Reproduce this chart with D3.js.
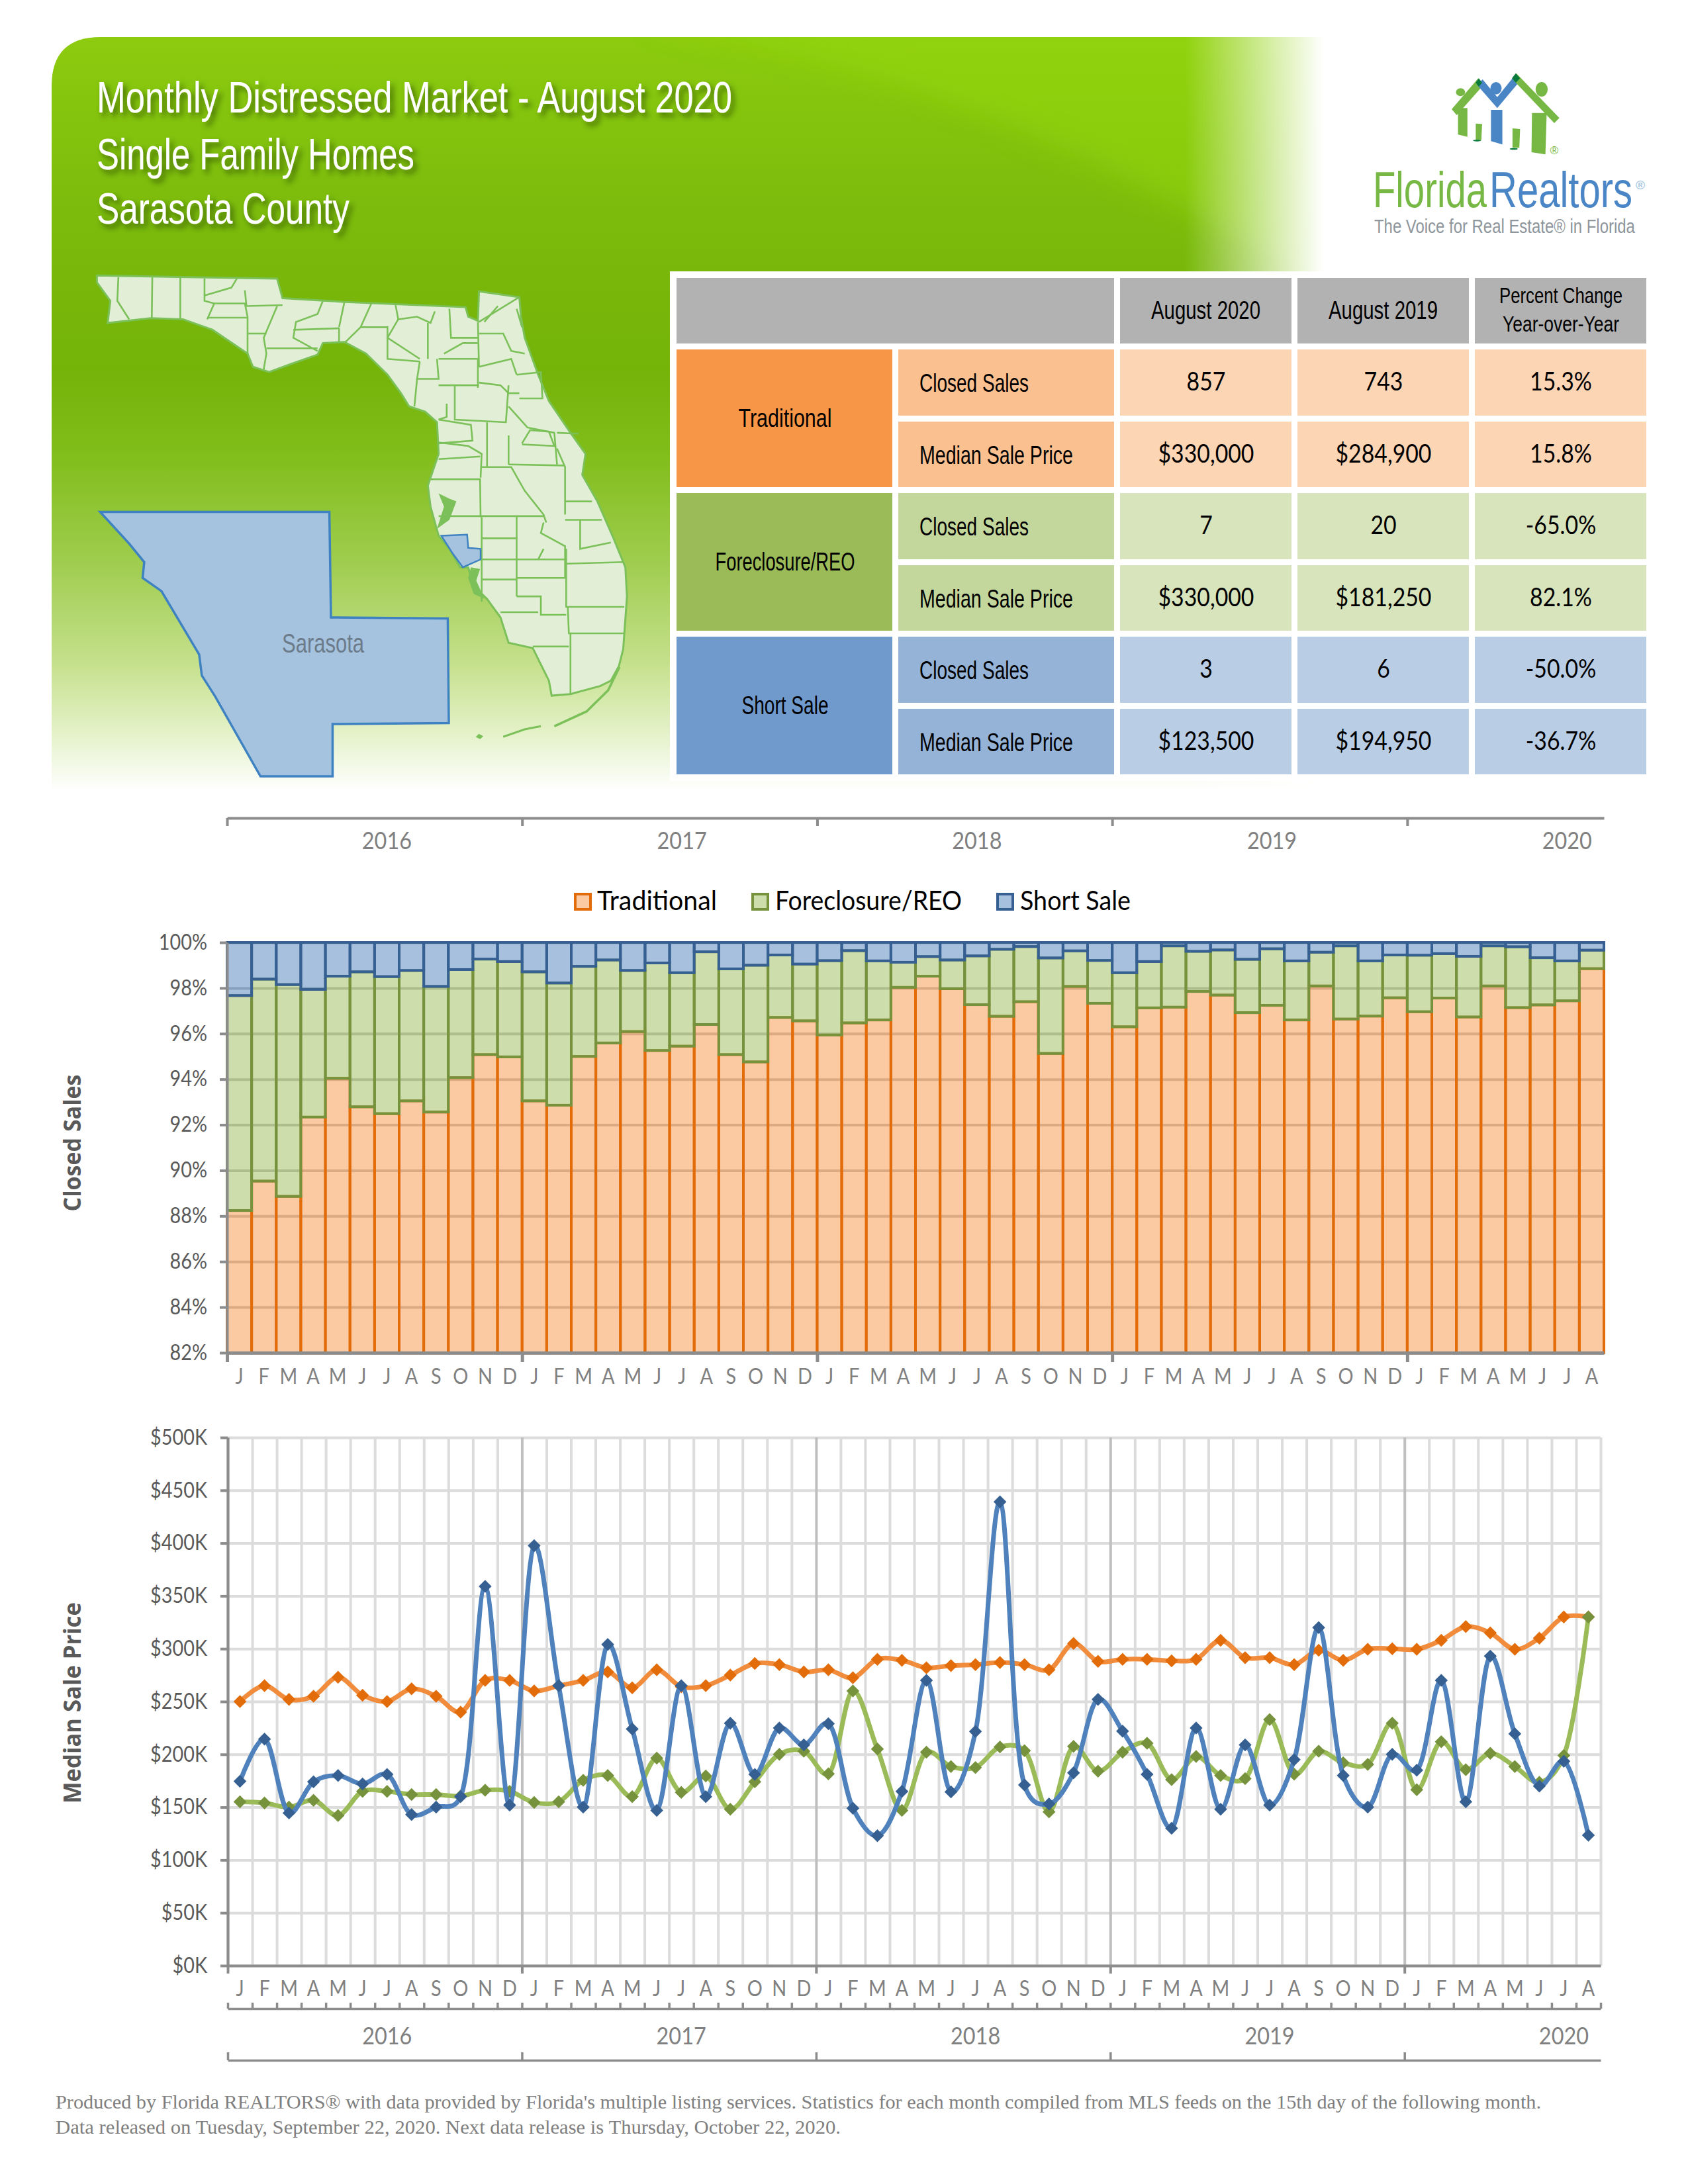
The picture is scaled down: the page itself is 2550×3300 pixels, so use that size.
<!DOCTYPE html>
<html><head><meta charset="utf-8">
<script src="https://d3js.org/d3.v7.min.js"></script>
<style>html,body{margin:0;padding:0;background:#fff}svg{display:block}</style>
</head><body><div id="c"></div>
<script>
// ---------- DATA ----------
const monthLabels = ["J","F","M","A","M","J","J","A","S","O","N","D","J","F","M","A","M","J","J","A","S","O","N","D","J","F","M","A","M","J","J","A","S","O","N","D","J","F","M","A","M","J","J","A","S","O","N","D","J","F","M","A","M","J","J","A"];
const years = ["2016","2017","2018","2019","2020"];
const yearStarts = [0,12,24,36,48];
const seriesNames = ["Traditional","Foreclosure/REO","Short Sale"];

const traditionalShare = [88.24,89.53,88.86,92.34,94.04,92.79,92.49,93.05,92.56,94.07,95.08,94.98,93.05,92.86,95.0,95.59,96.09,95.26,95.45,96.4,95.08,94.76,96.71,96.56,95.94,96.47,96.6,98.03,98.52,97.97,97.27,96.76,97.4,95.13,98.07,97.33,96.3,97.13,97.16,97.85,97.69,96.92,97.24,96.6,98.09,96.64,96.77,97.57,96.96,97.56,96.73,98.09,97.14,97.26,97.44,98.85];
const foreclosureShare = [9.43,8.86,9.29,5.6,4.48,5.92,6.01,5.72,5.51,4.74,4.19,4.18,5.66,5.36,3.95,3.64,2.68,3.84,3.22,3.19,3.76,4.24,2.74,2.49,3.26,3.17,2.59,1.1,0.86,1.26,2.14,2.94,2.42,4.19,1.56,1.88,2.37,2.03,2.69,1.76,1.98,2.34,2.48,2.59,1.48,3.21,2.42,1.88,2.48,1.95,2.66,1.76,2.67,2.07,1.75,0.81];
const shortSaleShare = [2.33,1.61,1.85,2.06,1.48,1.29,1.5,1.23,1.93,1.19,0.73,0.84,1.29,1.78,1.05,0.77,1.23,0.9,1.33,0.41,1.16,1.0,0.55,0.95,0.8,0.36,0.81,0.87,0.62,0.77,0.59,0.3,0.18,0.68,0.37,0.79,1.33,0.84,0.15,0.39,0.33,0.74,0.28,0.81,0.43,0.15,0.81,0.55,0.56,0.49,0.61,0.15,0.19,0.67,0.81,0.34];

const traditionalPrice = [250,265,252,255,273,256,250,262,255,240,270,270,260,265,270,278,263,280,264,265,275,286,285,278,280,272.5,290,289,282,284,285,287,285,280,305,288,290,290,288.5,290,308,291.5,291.5,284.9,298.5,289,299.5,300,299.5,308,321,315,299.5,310,330,330];
const foreclosurePrice = [155,154,150,156.5,142,165,165,162,162,160.5,166,165,154.5,155,175.5,180,160,196.5,164,179.5,148,174,200,203,181.5,260,205,147,202,188.5,187.5,207,203.5,145.5,207.5,184,202,210.5,176,198,180,177,233,181.25,203,192,190.5,229.5,166.5,212,185.5,201,188.5,173.5,199,330];
const shortSalePrice = [174.5,214.5,144.5,174,180,172,181,143,150,160,359,152,397.5,265,150,304,224,147,265,160,229.5,181,225,209,229,149,123,165,270,164.5,221.6,439,171,153,182.5,252,222,181,130,225,148,209,152,194.95,320,180,150,200,185,270,155,293,219.5,170,193.5,123.5];

const tableHeaders = ["August 2020","August 2019"];
const tableHeaderChange = ["Percent Change","Year-over-Year"];
const tableGroups = ["Traditional","Foreclosure/REO","Short Sale"];
const tableMeasures = ["Closed Sales","Median Sale Price"];
const tableCurrent = ["857","$330,000","7","$330,000","3","$123,500"];
const tablePrior = ["743","$284,900","20","$181,250","6","$194,950"];
const tableChange = ["15.3%","15.8%","-65.0%","82.1%","-50.0%","-36.7%"];
const titleLines = ["Monthly Distressed Market - August 2020","Single Family Homes","Sarasota County"];
const footerLines = ["Produced by Florida REALTORS® with data provided by Florida's multiple listing services. Statistics for each month compiled from MLS feeds on the 15th day of the following month.","Data released on Tuesday, September 22, 2020. Next data release is Thursday, October 22, 2020."];

// ---------- SETUP ----------
const W=2550,H=3300;
const svg=d3.select("#c").append("svg").attr("width",W).attr("height",H).attr("viewBox",`0 0 ${W} ${H}`);
const defs=svg.append("defs");
const NARROW="'Liberation Sans Narrow','Liberation Sans',sans-serif", CAL="Lato,sans-serif", SERIF="'Liberation Serif',serif", BOLD="'Open Sans',sans-serif";
function txt(p,x,y,t,o={}){
  const e=p.append("text").attr("x",x).attr("y",y).text(t)
    .attr("font-family",o.family||CAL).attr("font-size",o.size||30).attr("fill",o.fill||"#000")
    .attr("text-anchor",o.anchor||"start");
  if(o.weight)e.attr("font-weight",o.weight);
  if(o.width)e.attr("textLength",o.width).attr("lengthAdjust","spacingAndGlyphs");
  if(o.transform)e.attr("transform",o.transform);
  if(o.filter)e.attr("filter",o.filter);
  return e;
}
// squeeze rendered text to imitate the narrower face of the original
function condense(sel,k){sel.each(function(){const n=this.getComputedTextLength();if(n>0)d3.select(this).attr("textLength",n*k).attr("lengthAdjust","spacingAndGlyphs");});}
// same squeeze as a horizontal scale, so the text's box really has the target width
function fitScaled(p,x,y,t,o){
  const e=p.append("text").text(t).attr("font-family",o.family).attr("font-size",o.size).attr("fill",o.fill);
  const k=o.width/e.node().getComputedTextLength();
  e.attr("transform",`translate(${x},${y}) scale(${k},1)`);
  return e;
}

// ---------- BANNER ----------
const vg=defs.append("linearGradient").attr("id","vg").attr("gradientUnits","userSpaceOnUse").attr("x1",0).attr("x2",0).attr("y1",56).attr("y2",1195);
[[0,"#8ccb0e"],[.215,"#7dbc0c"],[.44,"#74b308"],[.56,"#82be1c"],[.7,"#a0cd50"],[.83,"#c5e08c"],[.92,"#e3f1c6"],[1,"#ffffff"]].forEach(s=>vg.append("stop").attr("offset",s[0]).attr("stop-color",s[1]));
const hg=defs.append("linearGradient").attr("id","hg").attr("gradientUnits","userSpaceOnUse").attr("x1",1790).attr("x2",2000).attr("y1",0).attr("y2",0);
hg.append("stop").attr("offset",0).attr("stop-color","#fff");hg.append("stop").attr("offset",1).attr("stop-color","#000");
const m=defs.append("mask").attr("id","bm").attr("maskUnits","userSpaceOnUse").attr("x",0).attr("y",0).attr("width",W).attr("height",H);
m.append("rect").attr("x",78).attr("y",0).attr("width",2000).attr("height",1300).attr("fill","url(#hg)");
defs.append("filter").attr("id","blur").attr("x","-20%").attr("y","-20%").attr("width","140%").attr("height","140%").append("feGaussianBlur").attr("stdDeviation",22);
const sh=defs.append("filter").attr("id","shadow").attr("x","-5%").attr("y","-30%").attr("width","110%").attr("height","170%");
sh.append("feDropShadow").attr("dx",5).attr("dy",6).attr("stdDeviation",4).attr("flood-color","#2a4a00").attr("flood-opacity",.75);
const bannerPath="M78,1195 L78,130 Q78,56 152,56 L2010,56 L2010,1195 Z";
defs.append("clipPath").attr("id","bc").append("path").attr("d",bannerPath);
const banner=svg.append("g").attr("mask","url(#bm)");
const bInner=banner.append("g").attr("clip-path","url(#bc)");
bInner.append("rect").attr("x",78).attr("y",56).attr("width",1940).attr("height",1140).attr("fill","url(#vg)");
bInner.append("path").attr("d","M960,30 Q1400,110 1720,280 L2000,430 L2100,30 Z").attr("fill","#9ade10").attr("opacity",.42).attr("filter","url(#blur)");

titleLines.forEach((t,i)=>txt(svg,146,[170,256,338][i],t,{family:NARROW,size:66,fill:"#fff",width:[960,480,382][i],filter:"url(#shadow)"}));

// ---------- MAP (decorative trace, zoom-crop coordinates) ----------
const mapLine=d3.line().x(d=>d[0]/1.23).y(d=>d[1]/1.254);
const pairs=a=>d3.range(0,a.length,2).map(i=>[a[i],a[i+1]]);
const flOutline=[180,522,515,528,525,565,640,572,865,582,870,600,888,608,890,552,965,563,968,600,975,640,1000,710,1020,760,1060,820,1088,860,1082,900,1110,950,1140,1020,1162,1075,1165,1130,1158,1230,1150,1262,1135,1290,1115,1300,1060,1315,1025,1318,1020,1290,990,1228,945,1218,930,1170,905,1135,880,1110,870,1075,855,1075,835,1040,815,1015,800,960,795,920,815,860,812,800,790,780,760,770,745,745,720,710,680,670,640,648,600,650,590,672,540,690,500,705,470,695,460,670,395,625,340,605,280,603,200,612,205,570,180,535];
const counties=[[220,525,218,570,240,605],[283,525,282,603],[335,525,335,605],[380,528,380,570,398,575,385,605],[380,560,430,545,440,528],[398,575,455,575,460,600,460,670],[385,602,460,602],[455,550,458,580,525,578],[460,632,495,632],[515,580,490,640,495,670,490,700],[495,660,590,660],[545,625,630,622],[630,622,630,648],[600,570,590,595,550,610,545,640,590,665],[640,572,630,620],[690,575,670,620,640,650],[670,620,720,620,720,680,780,685],[735,578,740,605,775,600,800,612,808,590],[740,605,720,640,780,680],[795,612,795,680],[835,585,838,640,888,640],[888,610,890,695],[890,610,965,563],[890,632,935,632,950,665,975,670],[925,580,900,610],[960,585,970,620],[825,670,860,650,888,650],[815,680,888,680,888,735],[780,685,775,718,815,718,812,680],[815,730,890,730],[890,695,950,680,960,710],[890,725,930,730,945,745,965,745],[960,710,1005,705,1008,755,965,755],[845,730,845,795,940,800,945,730],[775,718,770,770],[830,765,830,790,815,795],[815,795,875,805,878,835,815,840],[905,800,905,885],[945,770,980,810,1030,820,1035,880],[945,825,945,880],[1035,820,1075,822],[970,840,985,815,1020,818,1030,845,970,842],[1035,850,1050,885,1050,975],[945,880,1048,882],[812,838,870,845,895,860,893,905],[815,870,892,865],[800,908,892,908,893,980],[893,885,950,885,975,930,1010,975,1015,990],[1050,950,1100,950],[815,978,1010,978],[1050,985,1118,985],[1078,985,1078,1040,1135,1028],[895,980,895,1140],[895,1020,960,1020,960,1130],[960,978,960,1020],[895,1060,1050,1060],[1010,990,1005,1010,1050,1035,1050,1095,960,1095],[1010,1040,1000,1060],[895,1098,960,1098],[1052,1068,1160,1065],[1052,1040,1052,1150,1160,1150],[960,1130,1005,1130,1005,1165,1052,1165],[930,1160,1000,1160],[1055,1150,1057,1200,1160,1200],[990,1225,1057,1225],[1060,1200,1060,1315]];
const mapG=svg.append("g");
const landStroke="#7cc05a";
mapG.append("path").attr("d",mapLine(pairs(flOutline))+"Z").attr("fill","#e2efd6").attr("stroke",landStroke).attr("stroke-width",3);
mapG.selectAll("path.c").data(counties).join("path").attr("class","c").attr("d",d=>mapLine(pairs(d))).attr("fill","none").attr("stroke",landStroke).attr("stroke-width",2.6);
[[815,935,835,945,848,950,835,985,812,1002,825,960],[875,1075,892,1078,885,1100,900,1135,880,1125,870,1095]].forEach(a=>mapG.append("path").attr("d",mapLine(pairs(a))+"Z").attr("fill",landStroke));
[[890,1392,896,1395,892,1399,886,1396]].forEach(a=>mapG.append("path").attr("d",mapLine(pairs(a))+"Z").attr("fill",landStroke).attr("stroke",landStroke).attr("stroke-width",2));
mapG.append("path").attr("d",mapLine(pairs([935,1396,975,1382,1005,1376]))).attr("fill","none").attr("stroke",landStroke).attr("stroke-width",3);
mapG.append("path").attr("d",mapLine(pairs([1030,1376,1090,1348,1130,1308,1151,1264]))).attr("fill","none").attr("stroke",landStroke).attr("stroke-width",3.5);
mapG.append("path").attr("d",mapLine(pairs([820,1015,868,1013,870,1038,893,1040,893,1060,860,1075,842,1050]))+"Z").attr("fill","#a5c3df").attr("stroke","#3f82c2").attr("stroke-width",2.5);
mapG.append("path").attr("d",mapLine(pairs([186,970,612,970,615,1170,832,1172,834,1370,618,1372,618,1471,484,1471,400,1320,375,1280,370,1240,300,1120,265,1095,268,1065,240,1030]))+"Z").attr("fill","#a5c3df").attr("stroke","#3f82c2").attr("stroke-width",3.5);
txt(mapG,488,986,"Sarasota",{family:NARROW,size:40,fill:"#6c7b8a",anchor:"middle",width:124});

// ---------- LOGO ----------
const logoG=svg.append("g");
const logoLine=d3.line().x(d=>1950+d[0]/2.613).y(d=>50+d[1]/3);
const lgGreen="#76b843",lgBlue="#4a86c5",lgDark="#0a7a3c";
const poly=(a,f)=>logoG.append("path").attr("d",logoLine(pairs(a))+"Z").attr("fill",f);
const ell=(cx,cy,rx,ry,f)=>logoG.append("ellipse").attr("cx",1950+cx/2.613).attr("cy",50+cy/3).attr("rx",rx/2.613).attr("ry",ry/3).attr("fill",f);
ell(670,268,18,18,lgGreen);poly([660,340,697,340,697,470,660,460],lgGreen);poly([635,345,740,205,757,240,655,372],lgGreen);
poly([730,410,755,412,752,485,730,485],lgGreen);ell(735,487,16,4,lgDark);
poly([735,235,757,210,815,290,875,205,895,230,815,340],lgBlue);ell(810,250,22,28,lgBlue);poly([790,348,835,348,835,505,790,490],lgBlue);
poly([880,215,890,182,1060,385,1040,408],lgGreen);ell(990,255,24,33,lgGreen);poly([952,362,1010,362,1005,550,950,540],lgGreen);
poly([875,432,905,435,902,520,875,520],lgGreen);ell(880,525,16,4,lgDark);
poly([742,205,755,225,742,243,730,225],lgDark);poly([888,182,905,205,888,225,873,205],lgDark);
txt(logoG,2348,233,"®",{family:"'Liberation Sans',sans-serif",size:17,fill:lgGreen,anchor:"middle"});
fitScaled(logoG,2074,313,"Florida",{family:NARROW,size:76,fill:lgGreen,width:172});
fitScaled(logoG,2250,313,"Realtors",{family:NARROW,size:76,fill:lgBlue,width:216});
txt(logoG,2471,286,"®",{family:"'Liberation Sans',sans-serif",size:19,fill:"#8fb8dc"});
fitScaled(logoG,2076,352,"The Voice for Real Estate® in Florida",{family:NARROW,size:30,fill:"#8e959b",width:394});

// ---------- TABLE ----------
const colX=[1022,1357,1692,1960,2228], colW=[326,326,259,259,259];
const rowY=[528,637,745,854,962,1071], rowH=[100,99,100,99,100,99];
svg.append("rect").attr("x",1012).attr("y",410).attr("width",1485).attr("height",770).attr("fill","#fff");
const grpColor=["#f79646","#9bbb59","#7099cc"], subColor=["#fac090","#c3d69b","#95b3d7"], cellColor=["#fcd5b5","#d8e4bc","#b9cde5"];
const T=svg.append("g");
const cell=(x,y,w,h,f)=>T.append("rect").attr("x",x).attr("y",y).attr("width",w).attr("height",h).attr("fill",f);
cell(colX[0],420,661,99,"#b2b2b2");[2,3,4].forEach(c=>cell(colX[c],420,colW[c],99,"#b2b2b2"));
tableHeaders.forEach((h,i)=>txt(T,colX[2+i]+colW[2]/2,482,h,{family:NARROW,size:39,anchor:"middle",width:165}));
txt(T,colX[4]+130,458,tableHeaderChange[0],{family:NARROW,size:33,anchor:"middle",width:186});
txt(T,colX[4]+130,501,tableHeaderChange[1],{family:NARROW,size:33,anchor:"middle",width:176});
const grpW={"Traditional":141,"Foreclosure/REO":211,"Short Sale":131};
tableGroups.forEach((g,i)=>{
  const y0=rowY[i*2], h=rowY[i*2+1]+rowH[i*2+1]-y0;
  cell(colX[0],y0,colW[0],h,grpColor[i]);
  txt(T,colX[0]+164,y0+h/2+13,g,{family:NARROW,size:38,anchor:"middle",width:grpW[g]});
  tableMeasures.forEach((ms,j)=>{
    const r=i*2+j,y=rowY[r],hh=rowH[r];
    cell(colX[1],y,colW[1],hh,subColor[i]);
    [2,3,4].forEach(c=>cell(colX[c],y,colW[c],hh,cellColor[i]));
    txt(T,1389,y+64,ms,{family:NARROW,size:39,width:j?232:165});
    [[2,tableCurrent],[3,tablePrior],[4,tableChange]].forEach(([c,arr])=>{
      const e=txt(T,colX[c]+130,y+62,arr[r],{family:CAL,size:38,anchor:"middle"});
      condense(e,.89);
    });
  });
});

// ---------- SHARED ----------
const AXC="#8c8c8c",TICKC="#595959",MONC="#808080";
function styleAxis(g,o={}){
  g.selectAll(".domain").attr("stroke",o.domain===undefined?AXC:o.domain).attr("stroke-width",o.w||4);
  g.selectAll(".tick line").attr("stroke",o.tick||AXC).attr("stroke-width",o.tw||o.w||4);
  const t=g.selectAll("text").attr("font-family",CAL).attr("font-size",o.size||32).attr("fill",o.fill||TICKC);
  condense(t,.9);
}
const yearLabels=(x,y)=>years.forEach((t,i)=>{const e=svg.append("text").attr("x",x(yearStarts[i]+6)+x.bandwidth()/2).attr("y",y).attr("text-anchor","middle").attr("font-family",CAL).attr("font-size",36).attr("fill",MONC).text(t);condense(e,.9);});

// ---------- CHART 1 ----------
const x1=d3.scaleBand().domain(d3.range(56)).range([343,2423]).paddingInner(0).paddingOuter(0);
const y1=d3.scaleLinear().domain([82,100]).range([2044,1424]).clamp(true);
const b1=d3.scaleLinear().domain([0,56]).range([343,2423]);

// year strip above the chart
const topYears=svg.append("g").attr("transform","translate(0,1236)").call(d3.axisBottom(b1).tickValues(yearStarts).tickFormat("").tickSize(12).tickSizeOuter(0));
styleAxis(topYears,{w:4});
yearLabels(x1,1283);

// legend
const fills=["#f79646","#9bbb59","#4f81bd"], strokes=["#e36c0a","#76923c","#366092"];
const lineCol=["#f08c3c","#9bbb59","#4f81bd"];
const lg2=svg.append("g");
[[869,902,181],[1137,1171,282],[1507,1541,167]].forEach((p,i)=>{
  lg2.append("rect").attr("x",p[0]).attr("y",1351).attr("width",23).attr("height",23).attr("fill",fills[i]).attr("fill-opacity",.5).attr("stroke",strokes[i]).attr("stroke-width",4);
  txt(lg2,p[1],1375,seriesNames[i],{family:CAL,size:41,width:p[2]});
});

// grid
const grid1=svg.append("g").attr("transform","translate(343,0)").call(d3.axisLeft(y1).tickValues(d3.range(82,101,2)).tickSize(-2080).tickFormat(""));
grid1.selectAll(".domain").remove();grid1.selectAll("line").attr("stroke","#bfbfbf").attr("stroke-width",4);

// bars
const stackRows=d3.range(56).map(i=>({i,a:traditionalShare[i],b:foreclosureShare[i],c:shortSaleShare[i]}));
const stacked=d3.stack().keys(["a","b","c"])(stackRows);
svg.append("g").selectAll("g").data(stacked).join("g").attr("fill",(d,i)=>fills[i]).attr("fill-opacity",.5).attr("stroke",(d,i)=>strokes[i]).attr("stroke-width",4)
  .selectAll("rect").data(d=>d).join("rect")
  .attr("x",d=>x1(d.data.i)).attr("width",x1.bandwidth())
  .attr("y",d=>y1(Math.min(d[1],100))).attr("height",d=>y1(d[0])-y1(Math.min(d[1],100)));

// axes
const yA1=svg.append("g").attr("transform","translate(343,0)").call(d3.axisLeft(y1).tickValues(d3.range(82,101,2)).tickFormat(d=>d+"%").tickSize(11).tickPadding(19).tickSizeOuter(0));
styleAxis(yA1);
const xB1=svg.append("g").attr("transform","translate(0,2044)").call(d3.axisBottom(b1).tickValues(yearStarts).tickFormat("").tickSize(14).tickSizeOuter(0));
styleAxis(xB1,{w:5});
const xM1=svg.append("g").attr("transform","translate(0,2044)").call(d3.axisBottom(x1).tickFormat(i=>monthLabels[i]).tickSize(0).tickPadding(24));
xM1.select(".domain").remove();styleAxis(xM1,{fill:MONC});
txt(svg,0,0,"Closed Sales",{family:BOLD,weight:700,size:35,fill:"#595959",anchor:"middle",width:207,transform:"translate(122,1727) rotate(-90)"});

// ---------- CHART 2 ----------
const x2=d3.scaleBand().domain(d3.range(56)).range([344,2418]).paddingInner(0).paddingOuter(0);
const b2=d3.scaleLinear().domain([0,56]).range([344,2418]);
const y2=d3.scaleLinear().domain([0,500]).range([2970,2172]);
const fmtK=d=>"$"+d+"K";
const hGrid=svg.append("g").attr("transform","translate(344,0)").call(d3.axisLeft(y2).tickValues(d3.range(0,501,50)).tickSize(-2074).tickFormat(""));
hGrid.selectAll(".domain").remove();hGrid.selectAll("line").attr("stroke","#dcdcdc").attr("stroke-width",4);
const vGrid=svg.append("g").attr("transform","translate(0,2970)").call(d3.axisTop(b2).tickValues(d3.range(0,57)).tickSize(798).tickFormat(""));
vGrid.selectAll(".domain").remove();vGrid.selectAll("line").attr("stroke",d=>yearStarts.includes(d)?"#bfbfbf":"#dcdcdc").attr("stroke-width",4);

const priceSeries=[traditionalPrice,foreclosurePrice,shortSalePrice];
const smooth=d3.line().x((d,i)=>x2(i)+x2.bandwidth()/2).y(d=>y2(d)).curve(d3.curveCatmullRom.alpha(0.3));
const sq=d3.symbol(d3.symbolSquare,190);
priceSeries.forEach((s,k)=>{
  const g=svg.append("g");
  g.append("path").attr("d",smooth(s)).attr("fill","none").attr("stroke",lineCol[k]).attr("stroke-width",7).attr("stroke-linejoin","round");
  g.selectAll("path.m").data(s).join("path").attr("class","m").attr("d",sq)
    .attr("transform",(d,i)=>`translate(${x2(i)+x2.bandwidth()/2},${y2(d)}) rotate(45)`).attr("fill",strokes[k]);
});

const yA2=svg.append("g").attr("transform","translate(344,0)").call(d3.axisLeft(y2).tickValues(d3.range(0,501,50)).tickFormat(fmtK).tickSize(11).tickPadding(20).tickSizeOuter(0));
styleAxis(yA2);
const xB2=svg.append("g").attr("transform","translate(0,2970)").call(d3.axisBottom(b2).tickValues(yearStarts).tickFormat("").tickSize(12).tickSizeOuter(0));
styleAxis(xB2);
const xM2=svg.append("g").attr("transform","translate(0,2970)").call(d3.axisBottom(x2).tickFormat(i=>monthLabels[i]).tickSize(0).tickPadding(23));
xM2.select(".domain").remove();styleAxis(xM2,{fill:MONC});
const mRow=svg.append("g").attr("transform","translate(0,3035)").call(d3.axisTop(b2).tickValues(d3.range(0,57)).tickFormat("").tickSize(9).tickSizeOuter(0));
styleAxis(mRow,{w:3.5});
const yRow=svg.append("g").attr("transform","translate(0,3113)").call(d3.axisTop(b2).tickValues(yearStarts).tickFormat("").tickSize(12).tickSizeOuter(0));
styleAxis(yRow,{w:3.5});
yearLabels(x2,3089);
txt(svg,0,0,"Median Sale Price",{family:BOLD,weight:700,size:35,fill:"#595959",anchor:"middle",width:304,transform:"translate(122,2573) rotate(-90)"});

// ---------- FOOTER ----------
footerLines.forEach((t,i)=>txt(svg,84,[3186,3224][i],t,{family:SERIF,size:30,fill:"#7f7f7f",width:[2244,1186][i]}));
</script></body></html>
